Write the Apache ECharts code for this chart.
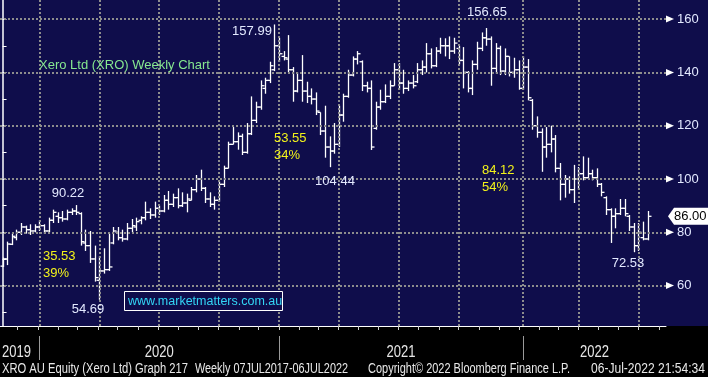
<!DOCTYPE html>
<html><head><meta charset="utf-8">
<script src="https://cdn.jsdelivr.net/npm/echarts@6/dist/echarts.min.js"></script>
<style>html,body{margin:0;padding:0;background:#000;}#c{width:708px;height:377px;}</style>
</head><body><div id="c"></div>
<script>
// ---------- data (weekly OHLC, first bar = week of 2019-11-08) ----------
const startDate = '2019-11-08';
const opens = [67.3,70.0,75.5,78.0,80.0,82.0,81.0,80.5,82.0,82.5,80.5,84.5,86.0,85.5,85.0,87.5,88.0,87.0,76.0,75.0,
70.0,62.0,65.5,66.0,76.0,80.0,78.0,77.5,81.5,82.0,84.5,85.5,87.5,86.5,89.0,88.0,92.0,90.5,93.0,90.0,
91.0,92.0,96.0,100.0,96.5,92.5,90.5,92.0,98.0,104.0,113.0,114.0,116.0,110.0,117.0,122.0,127.0,134.0,137.0,141.0,
150.0,146.0,145.0,141.0,133.0,137.0,133.0,131.0,130.0,125.0,118.0,112.0,110.5,113.0,124.0,131.0,139.0,145.0,144.0,135.0,
134.0,119.0,127.0,129.0,131.0,135.0,141.0,136.0,134.0,136.0,136.5,141.0,142.0,147.0,142.5,148.0,150.0,150.0,148.0,149.0,
144.5,140.0,134.0,143.0,149.0,153.0,152.5,141.5,149.0,140.5,146.0,140.0,141.0,134.0,142.0,129.5,120.0,117.5,112.0,113.0,
115.0,104.0,98.0,100.0,96.0,100.0,102.0,100.5,102.0,100.5,98.0,93.0,88.5,86.0,87.0,89.0,86.0,82.0,75.0,78.0,
77.5];
const highs = [70.5,76.5,79.5,81.0,83.5,82.5,83.0,83.0,84.5,83.0,85.5,88.5,87.5,88.0,88.5,89.0,90.22,87.5,81.0,80.5,
75.0,71.0,74.0,79.5,82.0,82.0,81.0,83.5,85.0,85.5,86.0,91.5,89.0,91.5,90.0,94.0,95.5,94.5,96.5,95.0,
94.5,97.0,101.5,103.5,97.0,95.0,93.5,99.0,105.0,114.0,119.5,117.5,117.0,121.0,131.0,129.0,137.0,138.0,144.0,157.99,
153.0,148.0,154.0,142.0,140.0,146.5,136.5,134.0,132.5,125.0,127.5,116.0,121.0,127.5,132.0,141.0,146.0,148.0,144.5,136.5,
137.0,129.0,133.5,135.5,137.0,143.5,143.5,141.0,137.0,139.0,143.5,144.5,151.0,149.0,149.5,153.0,152.8,153.5,153.0,150.0,
149.5,140.5,144.5,151.5,155.0,156.65,153.5,151.0,150.0,149.0,146.0,145.5,144.5,146.0,145.0,130.0,123.5,119.0,119.5,120.0,
116.5,106.0,101.5,101.0,105.3,104.5,108.5,108.0,103.5,104.0,98.5,93.5,89.0,89.0,92.5,92.5,86.5,83.5,83.5,84.0,
88.0];
const lows = [67.0,67.7,75.2,77.0,79.0,79.5,79.0,80.0,80.5,79.5,80.0,83.5,83.5,84.0,84.5,86.5,86.5,75.0,73.0,68.5,
61.5,54.69,64.5,65.5,75.5,77.0,76.5,77.0,80.0,80.5,83.0,84.5,85.0,85.5,86.5,87.5,88.5,89.5,89.0,89.5,
87.5,92.0,95.0,95.5,91.0,89.5,88.5,91.5,97.0,104.0,113.0,111.0,109.0,109.5,116.5,121.0,126.0,132.0,136.0,140.5,
144.0,144.5,140.0,129.0,132.5,129.0,128.5,128.0,124.0,116.5,108.0,104.44,109.5,112.0,121.5,130.5,138.5,143.0,133.0,132.5,
110.9,118.5,126.0,128.5,130.0,135.0,133.5,132.0,133.0,134.0,136.0,139.0,140.0,141.5,142.0,147.0,146.0,145.0,147.0,143.0,
134.0,132.5,131.5,141.0,148.0,150.0,135.0,139.5,139.0,139.0,138.5,138.0,133.5,133.5,129.5,118.5,115.5,102.7,108.0,110.0,
102.5,92.0,93.0,94.5,91.0,96.0,99.5,100.0,99.5,97.0,93.5,86.5,76.0,81.5,86.5,86.0,80.5,72.53,73.0,77.0,
77.0];
const closes = [70.0,75.6,78.5,80.0,82.0,81.0,80.5,82.0,82.5,80.5,84.5,87.5,85.5,85.0,87.5,88.0,87.5,76.5,75.0,70.0,
63.0,65.5,66.0,67.0,80.5,78.0,77.5,81.5,82.5,84.0,85.5,87.5,86.5,89.0,88.0,92.0,90.5,93.0,90.0,91.0,
92.5,96.0,100.0,96.5,92.5,90.5,92.0,98.0,104.0,113.0,114.0,116.0,110.0,117.0,122.0,127.0,135.0,137.0,142.5,150.0,
147.0,145.5,141.0,133.0,137.0,133.0,131.0,130.0,125.5,118.0,112.0,110.5,113.0,124.0,131.0,139.0,145.0,147.0,135.0,134.0,
112.0,127.0,129.0,131.0,135.0,141.0,136.0,134.0,136.0,135.0,141.0,142.0,147.0,142.5,148.0,150.0,150.0,148.0,151.0,144.5,
140.0,134.0,143.0,149.0,153.0,152.5,141.5,149.0,140.5,146.0,140.0,141.0,134.0,142.0,130.5,120.0,117.5,112.0,113.0,115.0,
104.0,98.0,100.0,96.0,100.0,102.0,100.5,102.0,100.5,98.0,95.0,88.5,86.0,87.0,89.0,87.0,82.0,75.0,80.0,77.5,
86.0];
const priceTicks = [60, 80, 100, 120, 140, 160];
const minorTicks = [50, 60, 70, 80, 90, 100, 110, 120, 130, 140, 150, 160];
const quarterStarts = ['2020-01-03','2020-04-03','2020-07-03','2020-10-02','2021-01-01','2021-04-02',
                       '2021-07-02','2021-10-01','2022-01-07','2022-04-01','2022-07-01'];
const yearStarts = ['2020-01-03','2021-01-01','2022-01-07'];
const yearLabels = ['2019','2020','2021','2022'];

// ---------- helpers ----------
const DAY = 86400000;
const t0 = Date.parse(startDate + 'T00:00:00Z');
const wk = d => (Date.parse(d + 'T00:00:00Z') - t0) / (7 * DAY);
const xMin = -0.55, xMax = 144.0, yMin = 44.84, yMax = 167.17;
const N = closes.length;
const barData = closes.map((c, i) => [i, opens[i], highs[i], lows[i], c]);

const monthTicks = [];
for (let y = 2019; y <= 2022; y++) for (let m = 0; m < 12; m++) {
  const v = (Date.UTC(y, m, 1) - t0) / (7 * DAY);
  if (v > xMin && v < xMax) monthTicks.push(v);
}
const bounds = [xMin].concat(yearStarts.map(wk)).concat([xMax]);

const NAVY = '#0f0d4b', GRID = '#8d8d8d', LAB = '#e3e9ff', YEL = '#f2f21a';
const FONT = '"Liberation Sans", Arial, sans-serif';
const mctx = document.createElement('canvas').getContext('2d');
function measure(text, font) { mctx.font = font; return mctx.measureText(text).width; }

const chart = echarts.init(document.getElementById('c'), null, {renderer: 'canvas'});
function txt(text, x, y, fill, align, size) {
  return {type: 'text', z: 50, style: {text: text, x: x, y: y, fill: fill, textAlign: align || 'left',
    textVerticalAlign: 'middle', font: (size || 13) + 'px ' + FONT}};
}
// condensed text: squeezed horizontally to a given width
function narrow(text, x, y, w, size, fill) {
  const font = size + 'px ' + FONT;
  return {type: 'text', z: 50, x: x, y: y, scaleX: w / measure(text, font),
    style: {text: text, x: 0, y: 0, fill: fill, textAlign: 'left', textVerticalAlign: 'middle', font: font}};
}
const FOOT = '#e8e8e8';
chart.setOption({
  backgroundColor: '#000',
  animation: false,
  grid: {left: 0, right: 42, top: 0, bottom: 51},
  xAxis: {type: 'value', min: xMin, max: xMax,
    axisLine: {show: true, lineStyle: {color: '#ffffff', width: 1}},
    axisTick: {show: true, customValues: monthTicks, length: 4, lineStyle: {color: '#cfcfcf'}},
    axisLabel: {show: false}, splitLine: {show: false}},
  yAxis: {type: 'value', position: 'right', min: yMin, max: yMax,
    axisLine: {show: true, lineStyle: {color: '#ffffff', width: 1.5}},
    axisTick: {show: true, customValues: minorTicks, length: 4, lineStyle: {color: '#ffffff'}},
    axisLabel: {show: true, customValues: priceTicks, margin: 11, color: LAB, fontSize: 13, fontFamily: FONT},
    splitLine: {show: false}},
  graphic: [
    {type: 'rect', z: -100, shape: {x: 0, y: 0, width: 708, height: 326}, style: {fill: NAVY}},
    txt('Xero Ltd (XRO) Weekly Chart', 39, 65, '#86e890', 'left', 13),
    txt('157.99', 252, 31, LAB, 'center', 13),
    txt('156.65', 487, 12, LAB, 'center', 13),
    txt('90.22', 68, 193, LAB, 'center', 13),
    txt('54.69', 88, 309, LAB, 'center', 13),
    txt('104.44', 335, 181, LAB, 'center', 13),
    txt('72.53', 628, 263, LAB, 'center', 13),
    txt('35.53', 43, 256, YEL, 'left', 13),
    txt('39%', 43, 273, YEL, 'left', 13),
    txt('53.55', 274, 138, YEL, 'left', 13),
    txt('34%', 274, 155, YEL, 'left', 13),
    txt('84.12', 482, 170, YEL, 'left', 13),
    txt('54%', 482, 187, YEL, 'left', 13),
    {type: 'rect', z: 50, shape: {x: 124.5, y: 291.5, width: 158, height: 19}, style: {fill: NAVY, stroke: '#ffffff', lineWidth: 1}},
    txt('www.marketmatters.com.au', 128, 301.5, '#33d6f5', 'left', 12.5),
    narrow('XRO AU Equity (Xero Ltd) Graph 217', 2, 369, 186, 14, FOOT),
    narrow('Weekly 07JUL2017-06JUL2022', 195, 369, 153, 14, FOOT),
    narrow('Copyright\u00a9 2022 Bloomberg Finance L.P.', 368, 369, 202, 14, FOOT),
    narrow('06-Jul-2022 21:54:34', 591, 369, 114, 14, FOOT)
  ],
  series: [
    { // dotted grid
      type: 'line', data: [], symbol: 'none', z: 1, silent: true,
      markLine: {silent: true, symbol: ['none', 'none'], label: {show: false}, animation: false,
        lineStyle: {color: GRID, type: [2, 2], width: 2},
        emphasis: {disabled: true},
        data: priceTicks.map(v => ({yAxis: v})).concat(quarterStarts.map(d => ({xAxis: wk(d)})))}
    },
    { // OHLC bars
      type: 'custom', z: 3, data: barData, encode: {x: 0, y: [1, 2, 3, 4]},
      renderItem: function (params, api) {
        const i = api.value(0);
        const h = api.coord([i, api.value(2)]), l = api.coord([i, api.value(3)]);
        const o = api.coord([i, api.value(1)]), c = api.coord([i, api.value(4)]);
        const x = Math.round(h[0]) + 0.5;
        const st = {stroke: '#ffffff', lineWidth: 1.3};
        return {type: 'group', children: [
          {type: 'line', shape: {x1: x, y1: h[1], x2: x, y2: l[1]}, style: st},
          {type: 'line', shape: {x1: x - 3, y1: o[1], x2: x, y2: o[1]}, style: st},
          {type: 'line', shape: {x1: x, y1: c[1], x2: x + 3, y2: c[1]}, style: st}
        ]};
      }
    },
    { // axis label markers
      type: 'custom', z: 4, clip: false, silent: true, data: priceTicks.map(v => [xMax, v]),
      renderItem: function (params, api) {
        const p = api.coord([api.value(0), api.value(1)]);
        return {type: 'polygon', shape: {points: [[p[0], p[1] - 3.5], [p[0], p[1] + 3.5], [p[0] + 8, p[1]]]},
          style: {fill: '#ffffff'}};
      }
    },
    { // last price tag
      type: 'custom', z: 5, clip: false, silent: true, data: [[N - 1, closes[N - 1]]],
      renderItem: function (params, api) {
        const p = api.coord([xMax, api.value(1)]);
        const x = p[0], y = p[1];
        return {type: 'group', children: [
          {type: 'polygon', shape: {points: [[x + 2, y], [x + 8, y - 8.5], [x + 42, y - 8.5], [x + 42, y + 8.5], [x + 8, y + 8.5]]},
            style: {fill: '#ffffff'}},
          {type: 'text', style: {text: api.value(1).toFixed(2), x: x + 8, y: y, fill: '#000', textVerticalAlign: 'middle',
            font: '13px ' + FONT}}
        ]};
      }
    },
    { // year separators and labels under the axis
      type: 'custom', z: 5, clip: false, silent: true,
      data: yearLabels.map((t, i) => [bounds[i], bounds[i + 1]]),
      renderItem: function (params, api) {
        const a = api.coord([api.value(0), yMin]), b = api.coord([api.value(1), yMin]);
        const label = yearLabels[params.dataIndex];
        const yf = '17px ' + FONT;
        const sx = 29 / measure(label, yf);
        const cx = params.dataIndex === 0 ? a[0] + 16.5 : (a[0] + b[0]) / 2;
        const kids = [{type: 'text', x: cx, y: a[1] + 26, scaleX: sx,
          style: {text: label, x: 0, y: 0, fill: '#e6e6e6', textAlign: 'center', textVerticalAlign: 'middle', font: yf}}];
        if (params.dataIndex > 0) {
          const xx = Math.round(a[0]) + 0.5;
          kids.push({type: 'line', shape: {x1: xx, y1: a[1] + 10, x2: xx, y2: a[1] + 34}, style: {stroke: '#9a9a9a', lineWidth: 1}});
        }
        return {type: 'group', children: kids};
      }
    }
  ]
});
</script></body></html>
